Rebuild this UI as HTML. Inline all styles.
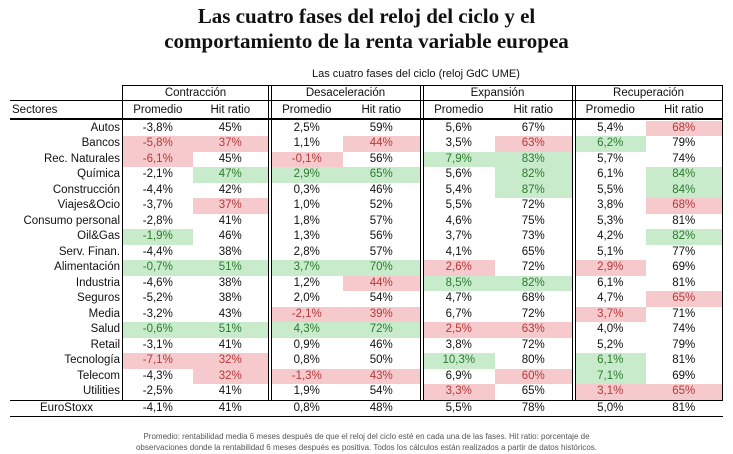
<!DOCTYPE html>
<html><head><meta charset="utf-8"><style>
body{margin:0;background:#fff;width:733px;height:454px;overflow:hidden;position:relative;font-family:"Liberation Sans",sans-serif;color:#111}
.t{position:absolute;white-space:nowrap}
.title{left:0;width:733px;text-align:center;font-family:"Liberation Serif",serif;font-weight:bold;font-size:21px}
.cell{position:absolute;font-size:11.5px;text-align:center;line-height:16px}
.ln{position:absolute;background:#000}
.r{background:#f6c9cc;color:#b23a3a}
.g{background:#c8eccb;color:#2c7a2e}
</style></head><body>
<div class="t title" style="top:4px">Las cuatro fases del reloj del ciclo y el</div>
<div class="t title" style="top:29px">comportamiento de la renta variable europea</div>
<div class="t" style="left:312px;top:68px;font-size:11px">Las cuatro fases del ciclo (reloj GdC UME)</div>
<div id="tbl"></div>
<div class="t" style="left:0;width:733px;text-align:center;top:431px;font-size:8px;color:#555;line-height:11px">Promedio: rentabilidad media 6 meses después de que el reloj del ciclo esté en cada una de las fases. Hit ratio: porcentaje de<br>observaciones donde la rentabilidad 6 meses después es positiva. Todos los cálculos están realizados a partir de datos históricos.</div>
<script>
const phases=["Contracción","Desaceleración","Expansión","Recuperación"];
const sectors=["Autos","Bancos","Rec. Naturales","Química","Construcción","Viajes&Ocio","Consumo personal","Oil&Gas","Serv. Finan.","Alimentación","Industria","Seguros","Media","Salud","Retail","Tecnología","Telecom","Utilities"];
const values=[
["-3,8%","45%","2,5%","59%","5,6%","67%","5,4%","68%"],
["-5,8%","37%","1,1%","44%","3,5%","63%","6,2%","79%"],
["-6,1%","45%","-0,1%","56%","7,9%","83%","5,7%","74%"],
["-2,1%","47%","2,9%","65%","5,6%","82%","6,1%","84%"],
["-4,4%","42%","0,3%","46%","5,4%","87%","5,5%","84%"],
["-3,7%","37%","1,0%","52%","5,5%","72%","3,8%","68%"],
["-2,8%","41%","1,8%","57%","4,6%","75%","5,3%","81%"],
["-1,9%","46%","1,3%","56%","3,7%","73%","4,2%","82%"],
["-4,4%","38%","2,8%","57%","4,1%","65%","5,1%","77%"],
["-0,7%","51%","3,7%","70%","2,6%","72%","2,9%","69%"],
["-4,6%","38%","1,2%","44%","8,5%","82%","6,1%","81%"],
["-5,2%","38%","2,0%","54%","4,7%","68%","4,7%","65%"],
["-3,2%","43%","-2,1%","39%","6,7%","72%","3,7%","71%"],
["-0,6%","51%","4,3%","72%","2,5%","63%","4,0%","74%"],
["-3,1%","41%","0,9%","46%","3,8%","72%","5,2%","79%"],
["-7,1%","32%","0,8%","50%","10,3%","80%","6,1%","81%"],
["-4,3%","32%","-1,3%","43%","6,9%","60%","7,1%","69%"],
["-2,5%","41%","1,9%","54%","3,3%","65%","3,1%","65%"]];
const highlights=[
"-------r","rr-r-rg-","r-r-gg--","-ggg-g-g","-----g-g","-r-----r","--------","g------g","--------","ggggr-r-","---rgg--","-------r","--rr--r-","ggggrr--","--------","rr--g-g-","-rrr-rg-","----r-rr"];
const total=["-4,1%","41%","0,8%","48%","5,5%","78%","5,0%","81%"];
const T=document.getElementById('tbl');
const gx=[[123,268],[271,420],[423,572],[575,722]];
const top0=120.5,rh=15.5;
function colX(i){const g=gx[Math.floor(i/2)];const w=(g[1]-g[0]);return i%2?[g[0]+w*0.48,g[1]]:[g[0],g[0]+w*0.48];}
function add(html,cls,st){const d=document.createElement('div');d.className=cls;d.style.cssText=st;d.innerHTML=html;T.appendChild(d);return d;}
phases.forEach((p,i)=>{const d=add(p,'cell',`left:${gx[i][0]}px;width:${gx[i][1]-gx[i][0]}px;top:85px`);


for(let k=0;k<2;k++){const c=colX(i*2+k);const s=add(k?'Hit ratio':'Promedio','cell',`left:${c[0]}px;width:${c[1]-c[0]}px;top:102px`);

}});
const sh=add('Sectores','cell',`left:12px;top:102px;text-align:left`);


sectors.forEach((s,r)=>{const y=top0+r*rh;
const l=add(s,'cell',`left:0;width:120px;text-align:right;top:${y}px;height:${rh}px;line-height:${rh}px`);


values[r].forEach((v,i)=>{const c=colX(i);const h=highlights[r][i];
const d=add(v,'cell'+(h==='r'?' r':h==='g'?' g':''),`left:${c[0]}px;width:${c[1]-c[0]}px;top:${y}px;height:${rh}px;line-height:${rh}px`);

});});
const ty=top0+sectors.length*rh;
const tl=add('EuroStoxx','cell',`left:40px;top:${ty}px;line-height:16px`);


total.forEach((v,i)=>{const c=colX(i);const d=add(v,'cell',`left:${c[0]}px;width:${c[1]-c[0]}px;top:${ty}px`);

});
function line(x,y,w,h){const d=add('','ln',`left:${x}px;top:${y}px;width:${w}px;height:${h}px`);

}
line(123,85,600,1);line(10,100,713,1);line(10,118,713,2);line(10,ty,713,1.5);line(10,ty+16,713,1.5);
line(122,85,1,ty-85);line(722,85,1,ty-85);
[268,271,420,423,572,575].forEach(x=>line(x,85,1,ty-85));
</script>
</body></html>
